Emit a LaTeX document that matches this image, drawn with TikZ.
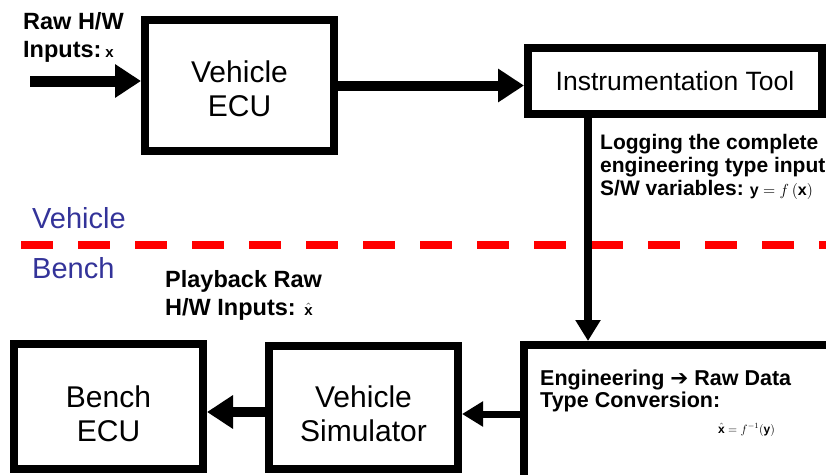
\documentclass[tikz,border=0pt]{standalone}
\usepackage{fix-cm}
\usepackage{fontspec}
\setmainfont{Liberation Sans}
\newfontfamily\arrowfont{DejaVu Sans}
\usetikzlibrary{arrows.meta}
\definecolor{sidecolor}{RGB}{51,51,153}

\tikzset{
	block/.style      = {draw, line width=8pt, align=center, inner sep=0pt,
			font=\fontsize{30}{34}\selectfont},
	blocktext/.style  = {align=center, inner sep=0pt,
			font=\fontsize{30}{34}\selectfont},
	note/.style       = {anchor=base west, align=left, inner sep=0pt,
			font=\bfseries\fontsize{21}{23}\selectfont},
	side/.style       = {anchor=base west, inner sep=0pt, text=sidecolor,
			font=\fontsize{29}{30}\selectfont},
	formula/.style    = {anchor=base west, inner sep=0pt,
			font=\fontsize{12}{12}\selectfont},
	bigarrow/.style   = {line width=11pt, -{Triangle[width=32pt,length=26pt]}},
	smallarrow/.style = {line width=8pt, -{Triangle[width=24pt,length=21pt]}}
}

\begin{document}
\begin{tikzpicture}[x=1pt, y=-1pt]
	\clip (0,0) rectangle (826,474);

	% vehicle side
	\node[block, minimum width=189pt, minimum height=131pt] (vecu) at (239.5,85.5) {};
	\node[blocktext] (vecutxt) at ([yshift=-3pt]vecu.center) {Vehicle\\ECU};
	\node[block, minimum width=294pt, minimum height=66pt, font=\fontsize{26.5}{30}\selectfont] (itool) at (675,81) {Instrumentation Tool};
	\coordinate (hwin) at (30,81);
	\draw[bigarrow] (hwin) -- (hwin -| vecu.west);
	\draw[bigarrow, line width=10pt] (vecu.east) -- (vecu.east -| itool.west);

	\node[note, font=\bfseries\fontsize{23.5}{28}\selectfont] (hwtxt) at (23,57)
		{Raw H/W\\Inputs:\,{\fontsize{15}{15}\selectfont$\mathbf{x}$}};
	\node[note] (logtxt) at (600,195)
		{Logging the complete\\engineering type input\\S/W variables:\hspace{6pt}{\fontsize{16}{16}\selectfont$\mathbf{y} = f\,(\mathbf{x})$}};

	% vehicle / bench split
	\draw[red, line width=8pt, dash pattern=on 32pt off 25pt] (21,244.5) -- (830,244.5);
	\node[side] (vehtxt) at (32,228) {Vehicle};
	\node[side] (bentxt) at (32,278) {Bench};

	% bench side
	\node[block, minimum width=189pt, minimum height=125pt] (becu) at (108.5,406.5) {};
	\node[blocktext] (becutxt) at ([yshift=-7pt]becu.center) {Bench\\ECU};
	\node[block, minimum width=189pt, minimum height=123pt] (vsim) at (363.5,407.5) {};
	\node[blocktext] (vsimtxt) at ([yshift=-6pt]vsim.center) {Vehicle\\Simulator};
	\node[block, minimum width=316pt, minimum height=155pt] (conv) at (682,422.5) {};
	\draw[smallarrow] ([xshift=-87pt]itool.south) -- ([xshift=-87pt]itool.south |- conv.north);
	\draw[bigarrow, line width=10pt] ([yshift=-4.5pt]vsim.west) -- ([yshift=-4.5pt]vsim.west -| becu.east);
	\draw[smallarrow, line width=7pt] ([yshift=8.5pt]conv.west) -- ([yshift=8.5pt]conv.west -| vsim.east);

	\node[note, font=\bfseries\fontsize{23.5}{28}\selectfont] (playtxt) at (165,315)
		{Playback Raw\\H/W Inputs: {\fontsize{15}{15}\selectfont$\hat{\mathbf{x}}$}};
	\node[note, font=\bfseries\fontsize{21.5}{22}\selectfont] (convtxt) at (540,407)
		{Engineering {\arrowfont\bfseries ➔} Raw Data\\Type Conversion:};
	\node[formula] (convf) at (718,433) {$\hat{\mathbf{x}} = f^{-1}(\mathbf{y})$};
\end{tikzpicture}
\end{document}
